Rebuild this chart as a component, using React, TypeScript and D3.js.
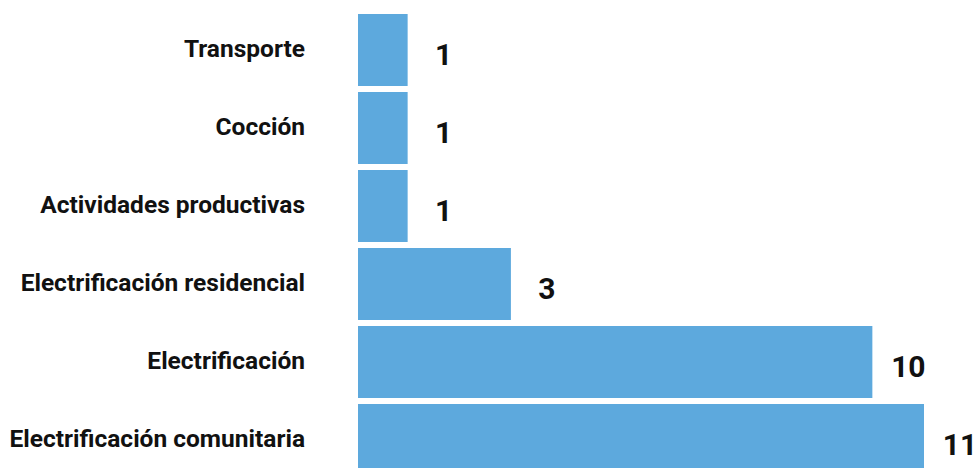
import React from "react";
import * as d3 from "d3";

const categories = [
  "Transporte",
  "Cocción",
  "Actividades productivas",
  "Electrificación residencial",
  "Electrificación",
  "Electrificación comunitaria",
];
const values = [1, 1, 1, 3, 10, 11];

const W = 976;
const H = 468;

export default function App() {
  const x = d3.scaleLinear().domain([0, 11]).range([358, 926]);
  const y = d3
    .scaleBand<string>()
    .domain(categories)
    .range([14, 476])
    .paddingInner(0.077)
    .paddingOuter(0);
  const bw = y.bandwidth();
  return (
    <svg
      width={W}
      height={H}
      style={{ position: "absolute", left: 0, top: 0, background: "#fff" }}
    >
      {categories.map((c, i) => {
        const y0 = y(c)!;
        const cy = y0 + bw / 2;
        return (
          <g key={c}>
            <rect x={x(0)} y={y0} width={x(values[i]) - x(0) - 2} height={bw} fill="#5DA9DD" />
            <text
              x={305}
              y={cy + 7}
              textAnchor="end"
              fontFamily="Roboto, sans-serif"
              fontWeight={700}
              fontSize={24.5}
              fill="#111"
            >
              {c}
            </text>
            <text
              x={x(values[i]) + 34}
              y={cy + 15}
              textAnchor="middle"
              fontFamily="Roboto, sans-serif"
              fontWeight={700}
              fontSize={30}
              fill="#111"
            >
              {values[i]}
            </text>
          </g>
        );
      })}
    </svg>
  );
}
